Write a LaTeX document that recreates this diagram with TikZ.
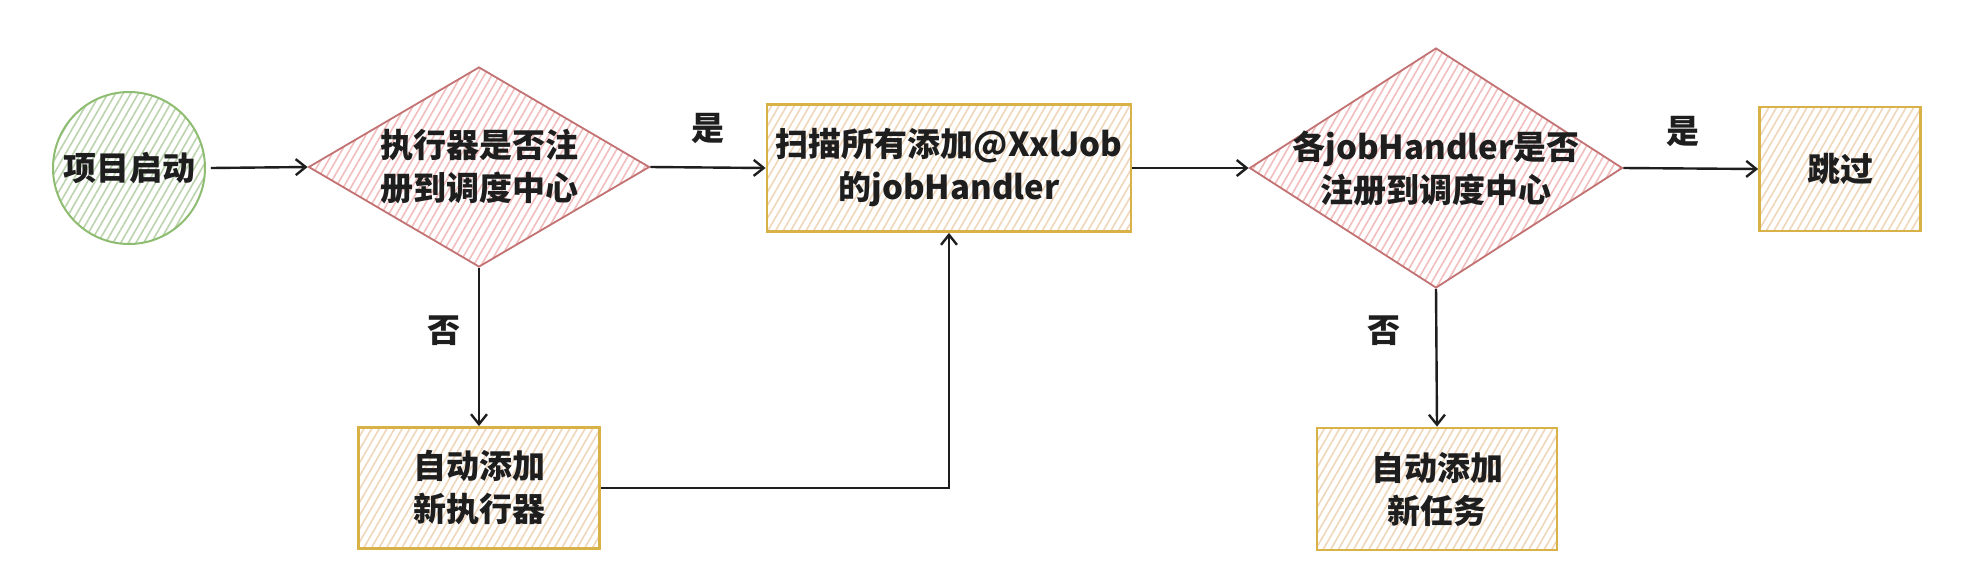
\documentclass[tikz,border=0pt]{standalone}
\usepackage{fontspec}
\setmainfont{Noto Sans CJK SC}
\usetikzlibrary{shapes.geometric,arrows.meta,patterns.meta}
\definecolor{dborder}{HTML}{C27272}
\definecolor{dhatch}{HTML}{F2BDBD}
\definecolor{rborder}{HTML}{D8B246}
\definecolor{rhatch}{HTML}{F0D6BA}
\definecolor{cborder}{HTML}{8EBD72}
\definecolor{chatch}{HTML}{BCD4AE}
\definecolor{ink}{HTML}{1E1E1E}
\begin{document}
\begin{tikzpicture}[x=0.5pt,y=-0.5pt,
  txt/.style={font=\bfseries\fontsize{16.5}{21.5}\selectfont, align=center, text=ink, inner sep=0pt},
  hatch/.style={pattern={Lines[angle=60,distance=3.3pt,line width=0.8pt]}, pattern color=#1},
  startc/.style={txt, circle, draw=cborder, line width=1pt, minimum size=76pt, hatch=chatch},
  decide/.style={diamond, draw=dborder, line width=0.9pt, inner sep=0pt, hatch=dhatch},
  procbox/.style={txt, rectangle, draw=rborder, line width=1.4pt, hatch=rhatch},
  conn/.style={draw=ink, line width=1.2pt, -{Straight Barb[length=5pt,width=8pt]}},
  lbl/.style={txt}
]
\useasboundingbox (0,0) rectangle (1962,584);
\fill[white] (0,0) rectangle (1962,584);

\node[startc] (start) at (129,168) {项目启动};

\node[decide, minimum width=170.5pt, minimum height=100pt] (d1) at (479,167) {};
\node[txt] (d1t) at (d1.center) {执行器是否注\\册到调度中心};

\node[procbox, minimum width=182pt, minimum height=63.5pt] (scan) at (949,168) {扫描所有添加@XxlJob\\的jobHandler};

\node[decide, minimum width=186.5pt, minimum height=120pt] (d2) at (1436,168) {};
\node[txt] (d2t) at (d2.center) {各jobHandler是否\\注册到调度中心};

\node[procbox, minimum width=80.5pt, minimum height=62pt] (skip) at (1840,169) {跳过};

\node[procbox, minimum width=120.5pt, minimum height=60.5pt] (addexec) at (479,488) {自动添加\\新执行器};

\node[procbox, minimum width=120pt, minimum height=61pt] (addtask) at (1437,489) {自动添加\\新任务};

\draw[conn] (start.east) ++(5,0) coordinate (s0) -- (d1.west);
\draw[conn] (d1.east) -- node[lbl, yshift=19.5pt] (l1) {是} (scan.west);
\draw[conn] (d1.south) -- node[lbl, pos=0.4, xshift=-17.5pt] (l2) {否} (addexec.north);
\draw[conn] (scan.east) -- (d2.west);
\draw[conn] (d2.east) -- node[lbl, pos=0.44, yshift=18.5pt] (l3) {是} (skip.west);
\draw[conn] (d2.south) -- node[lbl, pos=0.3, xshift=-26pt] (l4) {否} (addtask.north);
\draw[conn] (addexec.east) -| (scan.south);
\end{tikzpicture}
\end{document}
